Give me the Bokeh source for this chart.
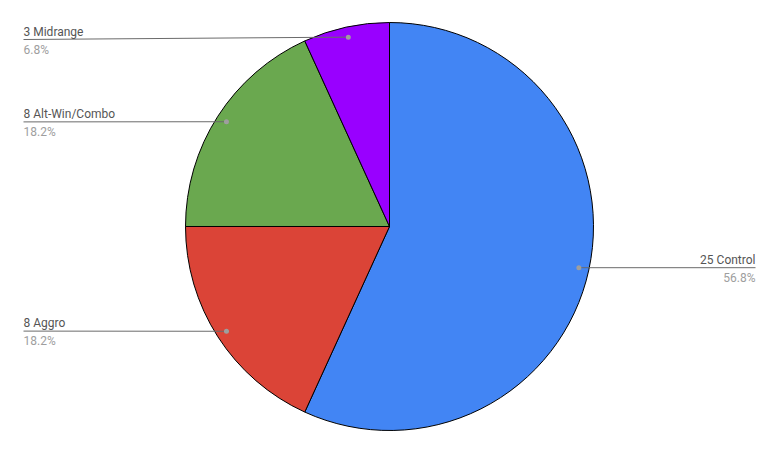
import math
from bokeh.plotting import figure
from bokeh.models import ColumnDataSource, Range1d
from bokeh.core.properties import value
from bokeh.embed import file_html
from bokeh.resources import INLINE

# ---- data ----
categories = ["Control", "Aggro", "Alt-Win/Combo", "Midrange"]
counts = [25, 8, 8, 3]
colors = ["#4285F4", "#DB4437", "#6AA84F", "#9900FF"]

# ---- layout (page pixel coords; y flipped via Y()) ----
W, H = 762, 437
PAGE_H = 453
def Y(py):
    return PAGE_H - py

CX, CY, R = 389, Y(226), 204
label_side = ["right", "left", "left", "left"]
label_line_py = [267.2, 330.6, 121.4, 39.0]
LEFT_X, RIGHT_X = 23, 755

p = figure(width=W, height=H,
           x_range=Range1d(0, W), y_range=Range1d(PAGE_H - H, PAGE_H),
           output_backend="svg", toolbar_location=None, min_border=0,
           x_axis_location=None, y_axis_location=None)
p.grid.visible = False
p.outline_line_color = None
p.background_fill_color = "white"
p.border_fill_color = "white"

total = sum(counts)
starts, ends, mids = [], [], []
cum = 0
for c in counts:
    a0 = math.pi / 2 - 2 * math.pi * cum / total
    cum += c
    a1 = math.pi / 2 - 2 * math.pi * cum / total
    starts.append(a0)
    ends.append(a1)
    mids.append((a0 + a1) / 2)

src = ColumnDataSource(dict(start=starts, end=ends, color=colors))
p.wedge(x=CX, y=CY, radius=R, start_angle="start", end_angle="end",
        direction="clock", fill_color="color", line_color="#000000",
        line_width=1, source=src)

dot_x, dot_y = [], []
lx0, ly0, lx1, ly1 = [], [], [], []
name_x, name_y, name_t, name_align = [], [], [], []
pct_y, pct_t = [], []
for i, cat in enumerate(categories):
    dx = CX + 0.95 * R * math.cos(mids[i])
    dy = CY + 0.95 * R * math.sin(mids[i])
    dot_x.append(dx); dot_y.append(dy)
    ex = RIGHT_X if label_side[i] == "right" else LEFT_X
    ey = Y(label_line_py[i])
    lx0.append(dx); ly0.append(dy); lx1.append(ex); ly1.append(ey)
    name_x.append(ex)
    name_y.append(ey + 8)
    name_t.append(f"{counts[i]} {cat}")
    name_align.append("right" if label_side[i] == "right" else "left")
    pct_y.append(ey - 10)
    pct_t.append(f"{100 * counts[i] / total:.1f}%")

p.segment(x0=lx0, y0=ly0, x1=lx1, y1=ly1, line_color="#6b6b6b", line_width=1)
p.scatter(x=dot_x, y=dot_y, size=5, marker="circle",
          fill_color="#9e9e9e", line_color=None)

tsrc = ColumnDataSource(dict(x=name_x, y=name_y, t=name_t, a=name_align,
                             py=pct_y, pt=pct_t))
p.text(x="x", y="y", text="t", text_align="a", text_baseline="alphabetic",
       text_font=value("Roboto"), text_font_size="12px", text_color="#555555",
       source=tsrc)
p.text(x="x", y="py", text="pt", text_align="a", text_baseline="alphabetic",
       text_font=value("Roboto"), text_font_size="12px", text_color="#9e9e9e",
       source=tsrc)

open("out.html", "w").write(file_html(p, INLINE))
